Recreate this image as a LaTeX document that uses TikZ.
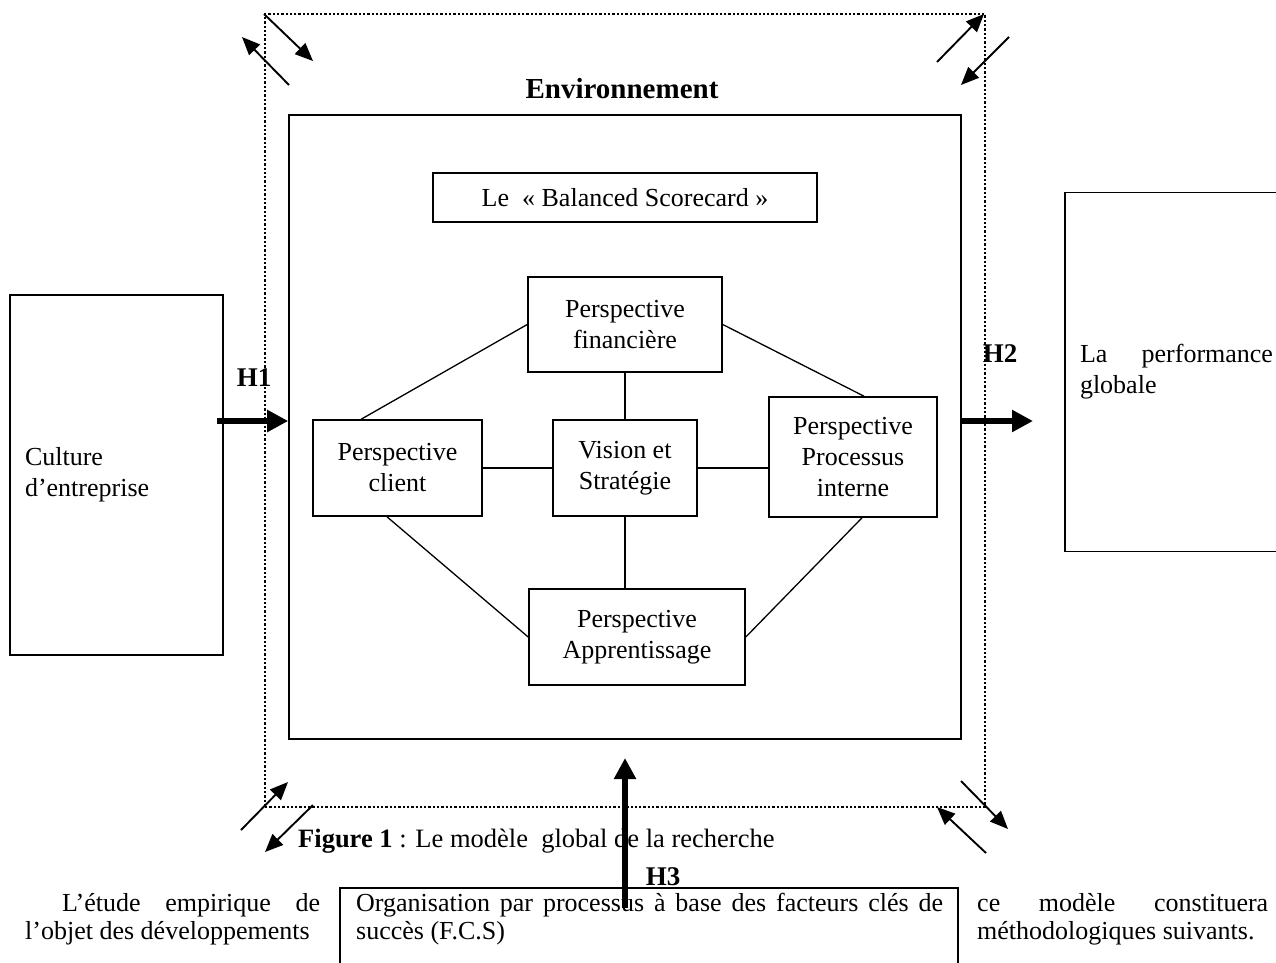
\documentclass[tikz,border=0pt]{standalone}
\usepackage{fontspec}
\setmainfont{Liberation Serif}
\usetikzlibrary{arrows.meta}
\begin{document}
\begin{tikzpicture}[x=1pt,y=-1pt,
  every node/.style={font=\fontsize{26}{31}\selectfont},
  box/.style={draw, line width=1.6pt, inner sep=0pt, align=center},
  conn/.style={line width=1.3pt},
  bigarrow/.style={line width=6pt, -{Triangle[length=21pt,width=21pt]}},
  cornerarrow/.style={line width=1.9pt, -{Triangle[length=18pt,width=15pt]}},
  dotbox/.style={draw, line width=2.5pt, dash pattern=on 2.3pt off 2pt, inner sep=0pt},
  para/.style={font=\fontsize{26}{28}\selectfont, inner sep=0pt, align=justify},
  hlab/.style={font=\fontsize{27}{31}\selectfont\bfseries, anchor=base},
]
\useasboundingbox (0,0) rectangle (1276,962);
\clip (0,0) rectangle (1276,962);

% environment (dotted) and inner frame
\node[dotbox, minimum width=720pt, minimum height=793pt] (env) at (625,410.5) {};
\node[box, minimum width=672pt, minimum height=624pt] (inner) at (625,427) {};
\node[font=\fontsize{29}{33}\selectfont\bfseries, anchor=base] (envlab) at (622,98) {Environnement};

% Balanced scorecard
\node[box, minimum width=384pt, minimum height=49pt] (bsc) at (625,197.5) {Le~ «~Balanced Scorecard~»};
\node[box, minimum width=194pt, minimum height=95pt] (fin) at (625,324.5) {Perspective\\financière};
\node[box, minimum width=169pt, minimum height=96pt] (cli) at (397.5,468) {Perspective\\client};
\node[box, minimum width=144pt, minimum height=96pt] (vis) at (625,468) {Vision et\\Stratégie};
\node[box, minimum width=168pt, minimum height=120pt] (pro) at (853,457) {Perspective\\Processus\\interne};
\node[box, minimum width=216pt, minimum height=96pt] (app) at (637,637) {Perspective\\Apprentissage};

\draw[conn] ([xshift=49pt]cli.north west) -- (fin.west);
\draw[conn] (fin.east) -- ([xshift=11pt]pro.north);
\draw[conn] ([xshift=-10.5pt]cli.south) -- (app.west);
\draw[conn] ([xshift=9pt]pro.south) -- (app.east);
\draw[conn] (fin.south) -- (vis.north);
\draw[conn] (vis.south) -- (vis.south |- app.north);
\draw[conn] (cli.east) -- (vis.west);
\draw[conn] (vis.east) -- (vis.east -| pro.west);

% side boxes
\node[box, align=left, text width=183pt, inner xsep=15pt, minimum height=360pt] (cul) at (116.5,475) {Culture\\d’entreprise};
\node[box, align=justify, text width=193pt, inner xsep=15pt, minimum height=359pt] (perf) at (1176.5,372) {La performance\linebreak globale};

% hypotheses arrows
\coordinate (h1s) at (217,421);
\draw[bigarrow] (h1s) -- (h1s -| inner.west);
\node[hlab] (h1) at (254,386) {H1};
\coordinate (h2e) at (1033,421);
\draw[bigarrow] (h2e -| inner.east) -- (h2e);
\node[hlab] (h2) at (1000,362) {H2};

% corner arrows
\coordinate (tla1) at (264,14);  \coordinate (tla2) at (313,61);
\coordinate (tlb1) at (289,85);  \coordinate (tlb2) at (242,37);
\coordinate (tra1) at (937,62);  \coordinate (tra2) at (984,14);
\coordinate (trb1) at (1009,37); \coordinate (trb2) at (961,85);
\coordinate (bla1) at (241,830); \coordinate (bla2) at (288,782);
\coordinate (blb1) at (313,805); \coordinate (blb2) at (265,852);
\coordinate (bra1) at (961,781); \coordinate (bra2) at (1008,829);
\coordinate (brb1) at (986,853); \coordinate (brb2) at (937,807);
\foreach \c in {tla,tlb,tra,trb,bla,blb,bra,brb}{
  \draw[cornerarrow] (\c1) -- (\c2);
}

% caption
\node[anchor=base west, inner sep=0pt, font=\fontsize{26.5}{31}\selectfont] (cap) at (298,847) {\textbf{Figure 1} : Le modèle~ global de la recherche};

% bottom text
\draw[line width=1.6pt] (340,975) -- (340,888) -- (958,888) -- (958,975);
\node[para, text width=587pt, anchor=base west] (fcs) at (356,911) {Organisation par processus à base des facteurs clés de\linebreak succès (F.C.S)};
\node[para, text width=295pt, anchor=base west] (lpar) at (25,911) {\hspace*{37pt}L’étude empirique de\linebreak l’objet des développements};
\node[para, text width=291pt, anchor=base west] (rpar) at (977,911) {ce modèle constituera\linebreak méthodologiques suivants.};

\coordinate (h3s) at (625,908);
\coordinate (h3e) at (625,758);
\draw[bigarrow] (h3s) -- (h3e);
\node[hlab] (h3) at (663,885) {H3};
\end{tikzpicture}
\end{document}
